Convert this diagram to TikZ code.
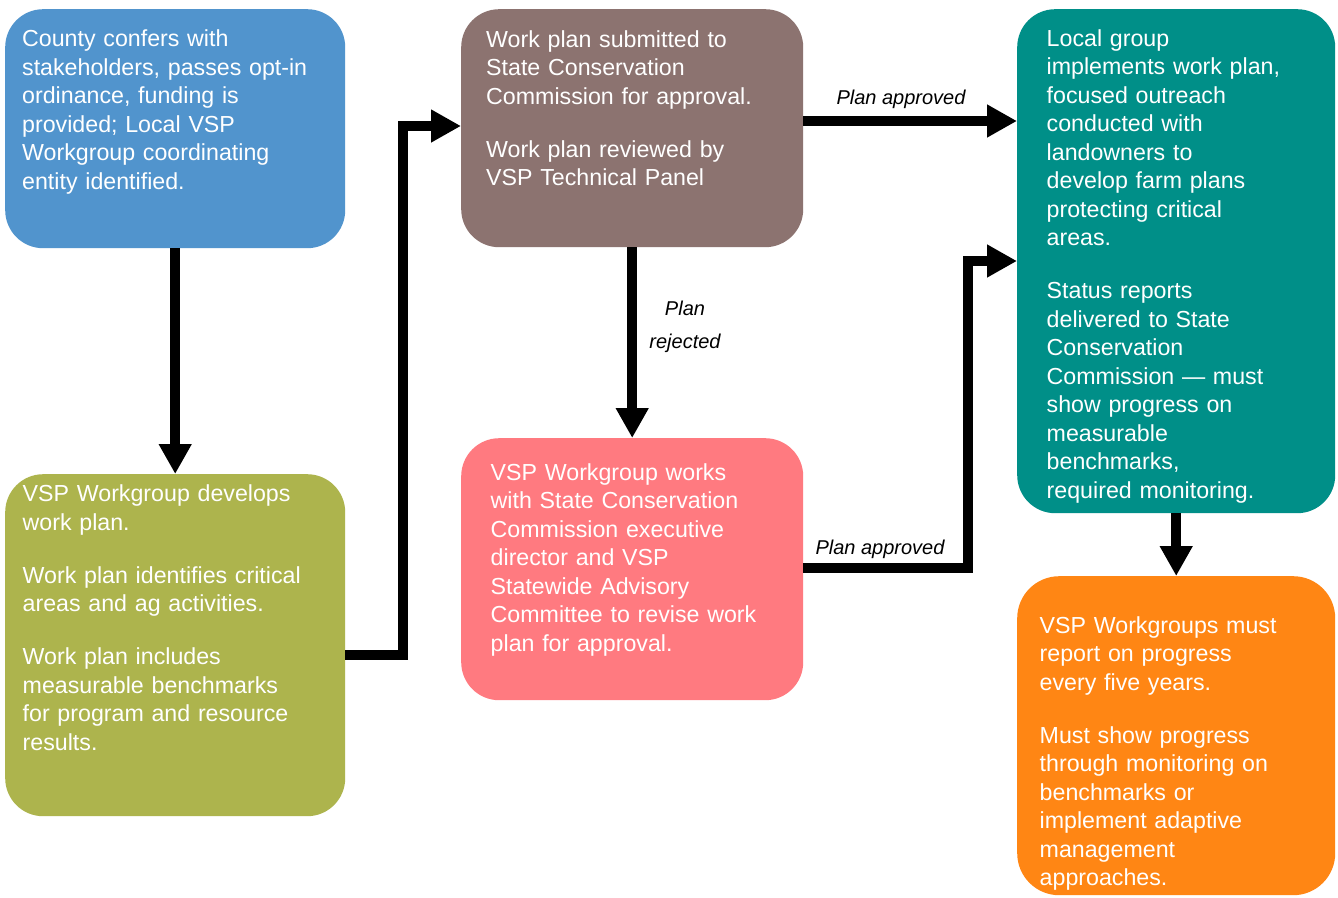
\documentclass[tikz,border=0pt]{standalone}
\usepackage{fontspec}
\setmainfont{Liberation Sans}
\usetikzlibrary{arrows.meta}
\definecolor{cblue}{RGB}{81,148,205}
\definecolor{cbrown}{RGB}{140,115,112}
\definecolor{cteal}{RGB}{0,143,136}
\definecolor{colive}{RGB}{173,180,77}
\definecolor{cpink}{RGB}{255,122,128}
\definecolor{corange}{RGB}{255,134,20}
\tikzset{
  box/.style={draw=none, rounded corners=38pt, anchor=north west, inner sep=0pt},
  boxtext/.style={anchor=north west, inner sep=0pt, text=white, text width=330pt, align=left,
    font=\fontsize{23.2}{28.5}\selectfont},
  arr/.style={line width=10pt, line join=miter, -{Triangle[length=30pt,width=31pt]}},
  lbl/.style={font=\fontsize{20}{33}\selectfont\itshape, inner sep=0pt, text=black},
}
\newcommand{\pgap}{\\[24.5pt]}
\begin{document}
\begin{tikzpicture}[x=1pt,y=-1pt]
\useasboundingbox (0,0) rectangle (1338,897);
\fill[white] (0,0) rectangle (1338,897);
% boxes
\node[box, fill=cblue, minimum width=340pt, minimum height=239pt] (blue) at (5,9) {};
\node[box, fill=cbrown, minimum width=342pt, minimum height=238pt] (brown) at (461,9) {};
\node[box, fill=cteal, minimum width=318pt, minimum height=504pt] (teal) at (1017,9) {};
\node[box, fill=colive, minimum width=340pt, minimum height=342pt] (olive) at (5,474) {};
\node[box, fill=cpink, minimum width=342pt, minimum height=262pt] (pink) at (461,438) {};
\node[box, fill=corange, rounded corners=42pt, minimum width=318pt, minimum height=319pt] (orange) at (1017,576) {};
% texts
\node[boxtext] (bluet) at (22,26.75) {\strut County confers with\\stakeholders, passes opt-in\\ordinance, funding is\\provided; Local VSP\\Workgroup coordinating\\entity identified.};
\node[boxtext] (brownt) at (486,27) {\strut Work plan submitted to\\State Conservation\\Commission for approval.\pgap Work plan reviewed by\\VSP Technical Panel};
\node[boxtext] (tealt) at (1046.5,26) {\strut Local group\\implements work plan,\\focused outreach\\conducted with\\landowners to\\develop farm plans\\protecting critical\\areas.\pgap Status reports\\delivered to State\\Conservation\\Commission --- must\\show progress on\\measurable\\benchmarks,\\required monitoring.};
\node[boxtext] (olivet) at (22.5,481.75) {\strut VSP Workgroup develops\\work plan.\pgap Work plan identifies critical\\areas and ag activities.\pgap Work plan includes\\measurable benchmarks\\for program and resource\\results.};
\node[boxtext] (pinkt) at (490.5,460) {\strut VSP Workgroup works\\with State Conservation\\Commission executive\\director and VSP\\Statewide Advisory\\Committee to revise work\\plan for approval.};
\node[boxtext] (oranget) at (1039.5,613.3) {\strut VSP Workgroups must\\report on progress\\every five years.\pgap Must show progress\\through monitoring on\\benchmarks or\\implement adaptive\\management\\approaches.};
% connectors
\draw[arr] (blue.south) -- (olive.north);
\draw[arr] ([yshift=-10pt]olive.east) -| (403,126) -- (brown.west |- 0,126);
\draw[arr] (brown.east |- 0,121) -- (teal.west |- 0,121);
\draw[arr] (brown.south) -- (pink.north);
\draw[arr] (pink.east |- 0,568) -| (968,261) -- (teal.west |- 0,261);
\draw[arr] (teal.south) -- (orange.north);
% labels
\node[lbl, anchor=base] (l1) at (901,104) {Plan approved};
\node[lbl, anchor=base] (l2) at (880,554) {Plan approved};
\node[lbl, align=center] (l3) at (685,326.5) {Plan\\rejected};
\end{tikzpicture}
\end{document}
